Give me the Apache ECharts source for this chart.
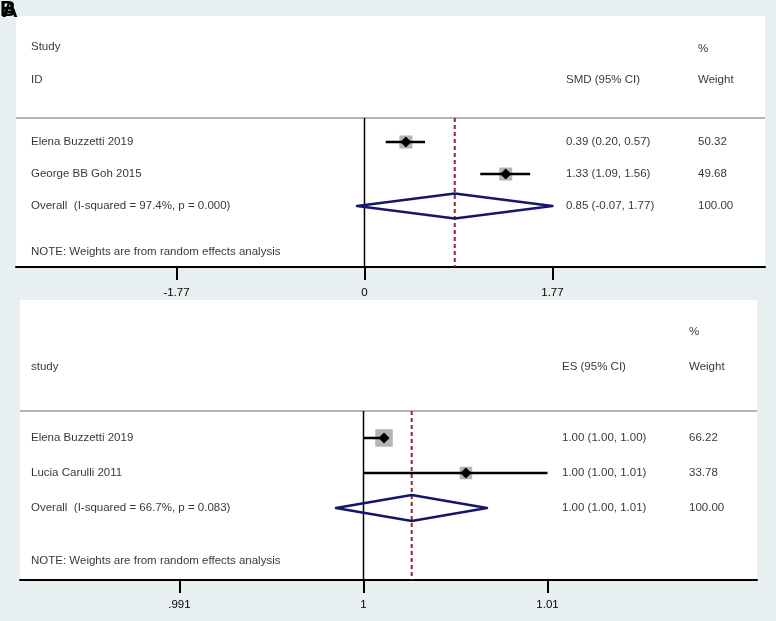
<!DOCTYPE html>
<html><head><meta charset="utf-8">
<script src="https://cdn.jsdelivr.net/npm/echarts@6/dist/echarts.min.js"></script>
<style>html,body{margin:0;padding:0;background:#e8eff1}#c{width:776px;height:621px}</style>
</head><body><div id="c"></div>
<script>
// ---------- DATA (panel A: SMD) ----------
const studiesA = ['Elena Buzzetti 2019', 'George BB Goh 2015'];
const esA = [0.39, 1.33];
const loA = [0.20, 1.09];
const hiA = [0.57, 1.56];
const weightA = [50.32, 49.68];
const ciTextA = ['0.39 (0.20, 0.57)', '1.33 (1.09, 1.56)'];
const weightTextA = ['50.32', '49.68'];
const overallA = [0.85, -0.07, 1.77];
const overallLabelA = 'Overall  (I-squared = 97.4%, p = 0.000)';
const overallTextA = ['0.85 (-0.07, 1.77)', '100.00'];
const tickValuesA = [-1.77, 0, 1.77];
const tickLabelsA = ['-1.77', '0', '1.77'];

// ---------- DATA (panel B: ES, log scale) ----------
const studiesB = ['Elena Buzzetti 2019', 'Lucia Carulli 2011'];
const esB = [1.001, 1.005];
const loB = [1.000, 1.000];
const hiB = [1.0012, 1.009];
const weightB = [66.22, 33.78];
const ciTextB = ['1.00 (1.00, 1.00)', '1.00 (1.00, 1.01)'];
const weightTextB = ['66.22', '33.78'];
const overallB = [1.00235, 0.99866, 1.00603];
const overallLabelB = 'Overall  (I-squared = 66.7%, p = 0.083)';
const overallTextB = ['1.00 (1.00, 1.01)', '100.00'];
const tickValuesB = [1 / 1.009, 1, 1.009];
const tickLabelsB = ['.991', '1', '1.01'];

const noteText = 'NOTE: Weights are from random effects analysis';

// ---------- LAYOUT ----------
const FONT = '"Liberation Sans", Arial, sans-serif';
const FS = 11.5;
const P = {
  A: { left: 16, top: 16, width: 749, height: 251, xmin: -3.281, xmax: 3.771,
       ymin: -2.9375, ymax: 4.906, colName: 15, colCI: 550, colW: 682,
       rowHead1: -1.969, rowPct: -1.906, rowHead2: -0.9375, rowSep: 0.25, rowNote: 4.4375,
       boxK: 1.84, diaH: 0.39, labMargin: 20 },
  B: { left: 20, top: 300, width: 737, height: 280, xmin: 0.983415, xmax: 1.019343,
       ymin: -2.943, ymax: 5.057, colName: 11, colCI: 542, colW: 669,
       rowHead1: -1.03, rowPct: -2.03, rowHead2: -1.03, rowSep: 0.229, rowNote: 4.514,
       boxK: 2.15, diaH: 0.37, labMargin: 19 }
};

function textSeries(xi, yi, items) {
  return {
    type: 'scatter', xAxisIndex: xi, yAxisIndex: yi, symbolSize: 0, silent: true,
    data: items.map(t => ({ value: [t[0], t[1]], label: { formatter: t[2] } })),
    label: { show: true, position: 'right', distance: 0, color: '#000', fontFamily: FONT, fontSize: FS },
    z: 5
  };
}

function studySeries(xi, yi, es, lo, hi, w, k) {
  return {
    type: 'custom', xAxisIndex: xi, yAxisIndex: yi, silent: true, z: 4,
    data: es.map((v, i) => [v, lo[i], hi[i], i + 1, w[i]]),
    renderItem: function (params, api) {
      const row = api.value(3);
      const c = api.coord([api.value(0), row]);
      const a = api.coord([api.value(1), row]);
      const b = api.coord([api.value(2), row]);
      const s = k * Math.sqrt(api.value(4));
      const d = 5.5;
      return {
        type: 'group', children: [
          { type: 'rect', shape: { x: c[0] - s / 2, y: c[1] - s / 2, width: s, height: s }, style: { fill: '#b4b4b4' } },
          { type: 'line', shape: { x1: a[0], y1: a[1], x2: b[0], y2: b[1] }, style: { stroke: '#000', lineWidth: 2.5 } },
          { type: 'polygon', shape: { points: [[c[0] - d, c[1]], [c[0], c[1] - d], [c[0] + d, c[1]], [c[0], c[1] + d]] }, style: { fill: '#000' } }
        ]
      };
    }
  };
}

function diamondSeries(xi, yi, ov, row, h) {
  return {
    type: 'custom', xAxisIndex: xi, yAxisIndex: yi, silent: true, z: 4,
    data: [[ov[0], ov[1], ov[2], row]],
    renderItem: function (params, api) {
      const r = api.value(3);
      const t = api.coord([api.value(0), r - h]);
      const bt = api.coord([api.value(0), r + h]);
      const a = api.coord([api.value(1), r]);
      const b = api.coord([api.value(2), r]);
      return {
        type: 'polygon',
        shape: { points: [[a[0], a[1]], [t[0], t[1]], [b[0], b[1]], [bt[0], bt[1]]] },
        style: { fill: 'none', stroke: '#15166b', lineWidth: 2.5, lineJoin: 'round' }
      };
    }
  };
}

function vline(xi, yi, x, y0, y1, style) {
  return { type: 'line', xAxisIndex: xi, yAxisIndex: yi, symbol: 'none', silent: true, z: 3,
    data: [[x, y0], [x, y1]], lineStyle: style };
}
function hline(xi, yi, x0, x1, y, style) {
  return { type: 'line', xAxisIndex: xi, yAxisIndex: yi, symbol: 'none', silent: true, z: 3,
    data: [[x0, y], [x1, y]], lineStyle: style };
}

const chart = echarts.init(document.getElementById('c'), null, { renderer: 'canvas' });

const axisCommon = (type, p, ticks, labels) => ({
  type: type, min: p.xmin, max: p.xmax, gridIndex: 0,
  axisLine: { show: true, onZero: false, lineStyle: { color: '#000', width: 2 } },
  axisTick: { show: true, length: 13, lineStyle: { color: '#000', width: 2 }, customValues: ticks },
  axisLabel: { show: true, margin: p.labMargin, color: '#000', fontFamily: FONT, fontSize: FS, customValues: ticks,
    formatter: v => { let i = ticks.findIndex(t => Math.abs(t - v) < 1e-9); return i >= 0 ? labels[i] : ''; } },
  splitLine: { show: false }
});

const xA = axisCommon('value', P.A, tickValuesA, tickLabelsA);
const xB = axisCommon('log', P.B, tickValuesB, tickLabelsB);
xB.gridIndex = 1; xB.logBase = Math.E;

const A = P.A, B = P.B;
const option = {
  backgroundColor: '#e8eff1',
  animation: false,
  grid: [
    { left: A.left, top: A.top, width: A.width, height: A.height, show: true, backgroundColor: '#fff', borderWidth: 0 },
    { left: B.left, top: B.top, width: B.width, height: B.height, show: true, backgroundColor: '#fff', borderWidth: 0 }
  ],
  xAxis: [
    xA,
    { type: 'value', gridIndex: 0, min: 0, max: A.width, show: false },
    xB,
    { type: 'value', gridIndex: 1, min: 0, max: B.width, show: false }
  ],
  yAxis: [
    { type: 'value', gridIndex: 0, min: A.ymin, max: A.ymax, inverse: true, show: false },
    { type: 'value', gridIndex: 1, min: B.ymin, max: B.ymax, inverse: true, show: false }
  ],
  graphic: [
    { type: 'text', left: 0, top: -1, style: { text: 'B', fontFamily: FONT, fontWeight: 'bold', fontSize: 22, fill: '#000' } },
    { type: 'text', left: 2, top: 0, style: { text: 'A', fontFamily: FONT, fontWeight: 'bold', fontSize: 22, fill: '#000' } }
  ],
  series: [
    // Panel A
    hline(1, 0, 0, A.width, A.rowSep, { color: '#9a9a9a', width: 1.5 }),
    vline(0, 0, 0, A.rowSep, A.ymax, { color: '#000', width: 1.5 }),
    vline(0, 0, overallA[0], A.rowSep, A.ymax, { color: '#9b2230', width: 2, type: [4, 3] }),
    studySeries(0, 0, esA, loA, hiA, weightA, A.boxK),
    diamondSeries(0, 0, overallA, studiesA.length + 1, A.diaH),
    textSeries(1, 0, [
      [A.colName, A.rowHead1, 'Study'], [A.colName, A.rowHead2, 'ID'],
      [A.colCI, A.rowHead2, 'SMD (95% CI)'], [A.colW, A.rowPct, '%'], [A.colW, A.rowHead2, 'Weight'],
      ...studiesA.map((s, i) => [A.colName, i + 1, s]),
      ...ciTextA.map((s, i) => [A.colCI, i + 1, s]),
      ...weightTextA.map((s, i) => [A.colW, i + 1, s]),
      [A.colName, studiesA.length + 1, overallLabelA],
      [A.colCI, studiesA.length + 1, overallTextA[0]],
      [A.colW, studiesA.length + 1, overallTextA[1]],
      [A.colName, A.rowNote, noteText]
    ]),
    // Panel B
    hline(3, 1, 0, B.width, B.rowSep, { color: '#9a9a9a', width: 1.5 }),
    vline(2, 1, 1, B.rowSep, B.ymax, { color: '#000', width: 1.5 }),
    vline(2, 1, overallB[0], B.rowSep, B.ymax, { color: '#9b2230', width: 2, type: [4, 3] }),
    studySeries(2, 1, esB, loB, hiB, weightB, B.boxK),
    diamondSeries(2, 1, overallB, studiesB.length + 1, B.diaH),
    textSeries(3, 1, [
      [B.colName, B.rowHead1, 'study'],
      [B.colCI, B.rowHead2, 'ES (95% CI)'], [B.colW, B.rowPct, '%'], [B.colW, B.rowHead2, 'Weight'],
      ...studiesB.map((s, i) => [B.colName, i + 1, s]),
      ...ciTextB.map((s, i) => [B.colCI, i + 1, s]),
      ...weightTextB.map((s, i) => [B.colW, i + 1, s]),
      [B.colName, studiesB.length + 1, overallLabelB],
      [B.colCI, studiesB.length + 1, overallTextB[0]],
      [B.colW, studiesB.length + 1, overallTextB[1]],
      [B.colName, B.rowNote, noteText]
    ])
  ]
};
chart.setOption(option);
</script>
</body></html>
